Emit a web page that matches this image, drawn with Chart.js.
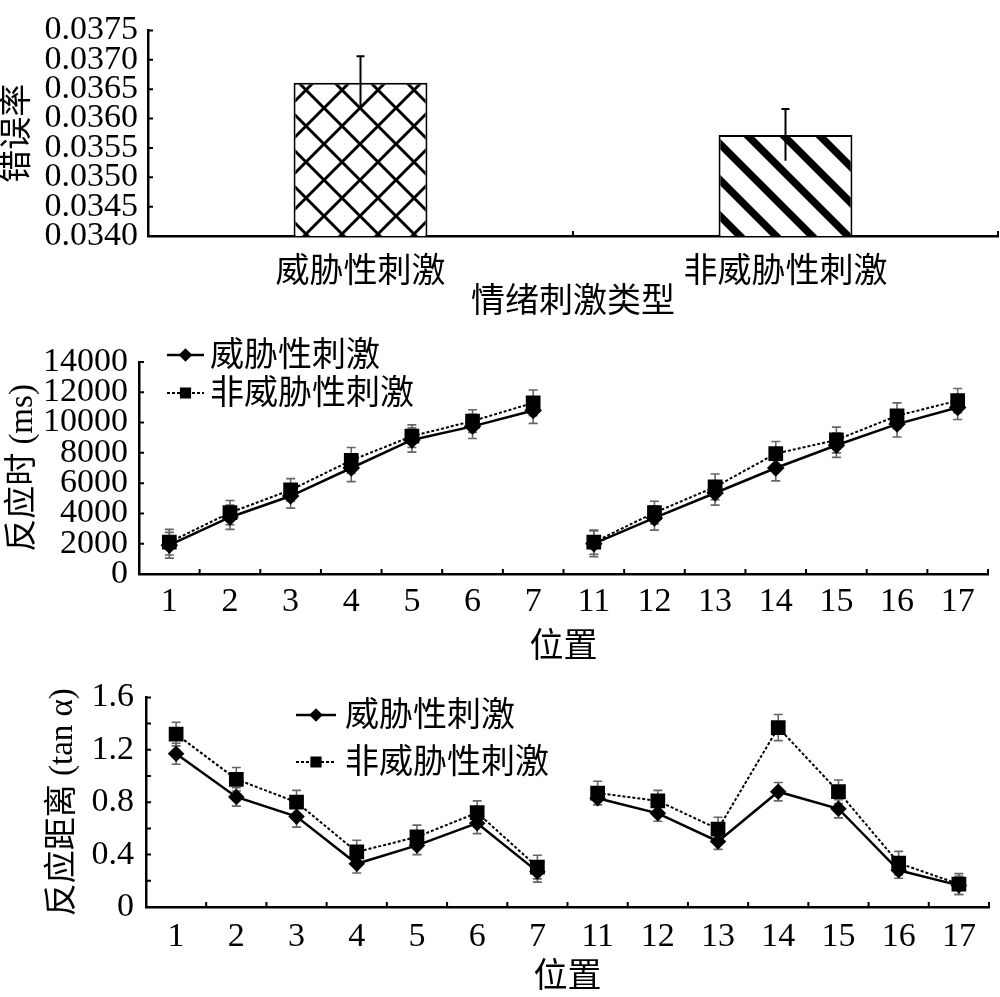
<!DOCTYPE html>
<html><head><meta charset="utf-8">
<script src="https://cdn.jsdelivr.net/npm/chart.js@4.4.0/dist/chart.umd.min.js"></script>
<style>
html,body{margin:0;padding:0;background:#fff;width:1000px;height:997px;overflow:hidden}
canvas{position:absolute;left:0}
</style></head><body>
<canvas id="c1" width="1000" height="330" style="top:0px"></canvas>
<canvas id="c2" width="1000" height="335" style="top:330px"></canvas>
<canvas id="c3" width="1000" height="332" style="top:665px"></canvas>
<script>
// ---------- data ----------
const stimulusTypes = ['威胁性刺激', '非威胁性刺激'];
const errorRate = [0.03661, 0.03572];
const errorRateSE = [0.00045, 0.00044];

const positions = ['1','2','3','4','5','6','7','11','12','13','14','15','16','17'];
const seriesNames = ['威胁性刺激', '非威胁性刺激'];

const rtThreat    = [1900, 3750, 5150, 7000, 8850, 9750, 10800, 2000, 3700, 5350, 7000, 8500, 9900, 11000];
const rtNonThreat = [2100, 4050, 5550, 7500, 9100, 10100, 11300, 2100, 4050, 5750, 7950, 8850, 10450, 11450];
const rtThreatSE    = [850, 800, 800, 900, 800, 800, 850, 850, 800, 800, 850, 800, 850, 800];
const rtNonThreatSE = [850, 800, 750, 850, 750, 750, 850, 800, 750, 850, 800, 850, 850, 800];

const distThreat    = [1.17, 0.84, 0.69, 0.33, 0.47, 0.64, 0.27, 0.83, 0.715, 0.50, 0.88, 0.75, 0.28, 0.165];
const distNonThreat = [1.32, 0.975, 0.80, 0.42, 0.535, 0.72, 0.305, 0.87, 0.81, 0.595, 1.37, 0.88, 0.335, 0.175];
const distThreatSE    = [0.08, 0.07, 0.08, 0.07, 0.07, 0.08, 0.08, 0.05, 0.06, 0.06, 0.07, 0.07, 0.06, 0.07];
const distNonThreatSE = [0.09, 0.09, 0.09, 0.09, 0.09, 0.09, 0.09, 0.09, 0.08, 0.09, 0.10, 0.09, 0.09, 0.08];

const rtTicks = {min: 0, max: 14000, step: 2000};
const distTicks = {min: 0, max: 1.6, step: 0.2};
const errTicks = {min: 0.0340, max: 0.0375, step: 0.0005};

// ---------- styling ----------
const FONT = "'Liberation Serif','Noto Sans CJK SC',serif";
Chart.defaults.font.family = FONT;
Chart.defaults.color = '#000';

function makePattern(kind) {
  const s = 36;
  const c = document.createElement('canvas');
  c.width = s; c.height = s;
  const g = c.getContext('2d');
  g.fillStyle = '#fff'; g.fillRect(0, 0, s, s);
  g.strokeStyle = '#000';
  g.beginPath();
  if (kind === 'lattice') {
    g.lineWidth = 3;
    for (const k of [-s, 0, s]) {
      g.moveTo(k - s, -s); g.lineTo(k + 2 * s, 2 * s);
      g.moveTo(k + 2 * s, -s); g.lineTo(k - s, 2 * s);
    }
  } else {
    g.lineWidth = 7.5;
    for (const k of [-s, 0, s]) { g.moveTo(k - s, -s); g.lineTo(k + 2 * s, 2 * s); }
  }
  g.stroke();
  return g.createPattern(c, 'repeat');
}

// break the line between non-consecutive positions
const breakAfter = positions.findIndex((p, i) => i < positions.length - 1 && (+positions[i + 1]) - (+p) > 1);
const segStyle = {borderColor: c => c.p0DataIndex === breakAfter ? 'rgba(0,0,0,0)' : '#000'};

const errorBarPlugin = {
  id: 'errorBars',
  _draw(chart, opts) {
    const {ctx} = chart;
    chart.data.datasets.forEach((ds, i) => {
      if (!ds.errors) return;
      const meta = chart.getDatasetMeta(i);
      const ys = chart.scales[meta.yAxisID];
      ctx.save();
      ctx.strokeStyle = opts.color; ctx.lineWidth = opts.width; ctx.setLineDash([]);
      ctx.beginPath();
      meta.data.forEach((el, j) => {
        const v = ds.data[j]; if (v == null) return;
        const e = ds.errors[j];
        const x = el.x;
        const yt = ys.getPixelForValue(v + e), yb = ys.getPixelForValue(v - e);
        ctx.moveTo(x, yt); ctx.lineTo(x, yb);
        ctx.moveTo(x - opts.cap, yt); ctx.lineTo(x + opts.cap, yt);
        if (opts.lowerCap) { ctx.moveTo(x - opts.cap, yb); ctx.lineTo(x + opts.cap, yb); }
      });
      ctx.stroke();
      ctx.restore();
    });
  },
  beforeDatasetsDraw(chart, a, opts) { if (opts.before) this._draw(chart, opts); },
  afterDatasetsDraw(chart, a, opts) { if (!opts.before) this._draw(chart, opts); }
};

const inwardTicks = {
  id: 'inwardTicks',
  afterDraw(chart, a, opts) {
    const {ctx, chartArea: ar} = chart;
    const xs = chart.scales.x, ys = chart.scales.y;
    ctx.save(); ctx.strokeStyle = '#000'; ctx.lineWidth = opts.width;
    ctx.beginPath();
    ys.ticks.forEach((t, i) => { const y = ys.getPixelForTick(i); ctx.moveTo(ar.left, y); ctx.lineTo(ar.left + opts.len, y); });
    const n = xs.ticks.length;
    for (let i = 1; i <= n; i++) {
      const x = i < n ? (xs.getPixelForTick(i - 1) + xs.getPixelForTick(i)) / 2 : ar.right;
      ctx.moveTo(x, ar.bottom); ctx.lineTo(x, ar.bottom - opts.len);
    }
    ctx.stroke(); ctx.restore();
  }
};

const lineLegend = {
  id: 'lineLegend',
  afterDraw(chart, a, opts) {
    const {ctx} = chart;
    chart.data.datasets.forEach((ds, i) => {
      const y = opts.ys[i];
      ctx.save();
      ctx.strokeStyle = '#000'; ctx.lineWidth = ds.borderWidth;
      ctx.setLineDash(ds.borderDash || []);
      ctx.beginPath(); ctx.moveTo(opts.x0, y); ctx.lineTo(opts.x1, y); ctx.stroke();
      ctx.setLineDash([]);
      ctx.fillStyle = '#000';
      Chart.helpers.drawPoint(ctx, {pointStyle: ds.pointStyle, radius: opts.radius[i], rotation: 0, borderWidth: 1}, (opts.x0 + opts.x1) / 2, y);
      ctx.fill();
      ctx.font = opts.fontSize + 'px ' + FONT;
      ctx.textBaseline = 'middle'; ctx.textAlign = 'left';
      ctx.fillText(ds.label, opts.textX, y + 2);
      ctx.restore();
    });
  }
};

function fixW(w) { return s => { s.width = w; }; }
function fixH(h) { return s => { s.height = h; }; }

const axisBorder = {color: '#000', width: 2.5};
const noGrid = {display: false, drawTicks: false};

// ---------- chart 1 ----------
new Chart(document.getElementById('c1'), {
  type: 'bar',
  data: {
    labels: stimulusTypes,
    datasets: [{
      data: errorRate,
      errors: errorRateSE,
      backgroundColor: [makePattern('lattice'), makePattern('stripes')],
      borderColor: '#000', borderWidth: 2,
      categoryPercentage: 1, barPercentage: 0.315
    }]
  },
  options: {
    responsive: false, animation: false, devicePixelRatio: 1,
    layout: {padding: {left: 0, right: 2, top: 15, bottom: 0}},
    plugins: {legend: {display: false}, tooltip: {enabled: false},
      errorBars: {color: '#000', width: 2, cap: 4, lowerCap: false, before: false},
      inwardTicks: {len: 5, width: 2}},
    scales: {
      x: {grid: noGrid, border: axisBorder, afterFit: fixH(94),
        ticks: {font: {size: 34}, padding: 17, maxRotation: 0, autoSkip: false},
        title: {display: true, text: '情绪刺激类型', font: {size: 34, lineHeight: 1}, padding: {top: 0, bottom: 10}}},
      y: {min: errTicks.min, max: errTicks.max, grid: noGrid, border: axisBorder, afterFit: fixW(148),
        ticks: {stepSize: errTicks.step, autoSkip: false, font: {size: 34}, padding: 10, callback: v => v.toFixed(4)},
        title: {display: true, text: '错误率', font: {size: 33, lineHeight: 1}, padding: {top: 2, bottom: 0}}}
    }
  },
  plugins: [errorBarPlugin, inwardTicks]
});

// ---------- line charts ----------
function lineChart(id, a, b, ae, be, yt, opt) {
  return new Chart(document.getElementById(id), {
    type: 'line',
    data: {
      labels: positions,
      datasets: [
        {label: seriesNames[0], data: a, errors: ae, borderColor: '#000', borderWidth: 2.5,
         pointStyle: 'rectRot', pointRadius: opt.diamond, pointBackgroundColor: '#000', pointBorderColor: '#000',
         tension: 0, segment: segStyle},
        {label: seriesNames[1], data: b, errors: be, borderColor: '#000', borderWidth: 2, borderDash: [3, 2],
         pointStyle: 'rect', pointRadius: opt.square, pointBackgroundColor: '#000', pointBorderColor: '#000',
         tension: 0, segment: segStyle}
      ]
    },
    options: {
      responsive: false, animation: false, devicePixelRatio: 1,
      layout: {padding: {left: 0, right: opt.right, top: opt.top, bottom: 0}},
      plugins: {legend: {display: false}, tooltip: {enabled: false},
        errorBars: {color: '#666', width: 1.6, cap: 4.5, lowerCap: true, before: true},
        inwardTicks: {len: 5, width: 2},
        lineLegend: opt.legend},
      scales: {
        x: {offset: true, grid: noGrid, border: axisBorder, afterFit: fixH(opt.xh),
          ticks: {font: {size: 34}, padding: opt.xpad, maxRotation: 0, autoSkip: false},
          title: {display: true, text: '位置', font: {size: 34, lineHeight: 1}, padding: {top: 0, bottom: opt.tpb}}},
        y: {min: yt.min, max: yt.max, grid: noGrid, border: axisBorder, afterFit: fixW(opt.yw),
          ticks: {stepSize: yt.step, autoSkip: false, font: {size: 34}, padding: opt.ypad, callback: opt.fmt},
          title: {display: true, text: opt.ytitle, font: {size: 33, lineHeight: 1}, padding: {top: opt.ytp, bottom: 0}}}
      }
    },
    plugins: [errorBarPlugin, inwardTicks, lineLegend]
  });
}

lineChart('c2', rtThreat, rtNonThreat, rtThreatSE, rtNonThreatSE, rtTicks, {
  right: 12, top: 32, xh: 91, yw: 139, xpad: 8, ypad: 11, tpb: 0, ytp: 7,
  diamond: 7, square: 9,
  fmt: v => String(v),
  ytitle: '反应时 (ms)',
  legend: {x0: 167, x1: 204, textX: 210, ys: [25, 63], radius: [5, 6.5], fontSize: 34}
});

lineChart('c3', distThreat, distNonThreat, distThreatSE, distNonThreatSE, distTicks, {
  right: 10, top: 32, xh: 90, yw: 146, xpad: 10, ypad: 12, tpb: 2, ytp: 47,
  diamond: 6.5, square: 9,
  fmt: v => (Math.round(v * 10) % 4 === 0 ? String(+v.toFixed(1)) : ''),
  ytitle: '反应距离 (tan α)',
  legend: {x0: 296, x1: 336, textX: 345, ys: [50, 97], radius: [5, 6.5], fontSize: 34}
});
</script>
</body></html>
